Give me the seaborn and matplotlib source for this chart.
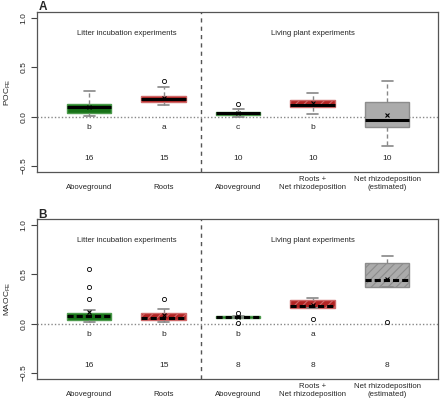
import matplotlib
matplotlib.use("Agg")
import matplotlib.pyplot as plt
import seaborn as sns

sns.set_style("white")
plt.rcParams['font.family'] = ['Liberation Sans', 'DejaVu Sans']
plt.rcParams['hatch.color'] = 'white'
plt.rcParams['hatch.linewidth'] = 0.8

categories = ["\nAboveground", "\nRoots", "\nAboveground",
              "Roots +\nNet rhizodeposition", "Net rhizodeposition\n(estimated)"]

# panel A : POC_FE
poc_q1 = [0.04, 0.15, 0.02, 0.10, -0.10]
poc_med = [0.10, 0.18, 0.035, 0.12, -0.03]
poc_q3 = [0.13, 0.21, 0.05, 0.17, 0.15]
poc_lo = [0.01, 0.12, 0.00, 0.03, -0.30]
poc_hi = [0.26, 0.30, 0.08, 0.24, 0.36]
poc_mean = [0.10, 0.19, 0.04, 0.14, 0.02]
poc_out = [[], [0.36], [0.13], [], []]
poc_letters = ["b", "a", "c", "b", ""]
poc_n = ["16", "15", "10", "10", "10"]

# panel B : MAOC_FE
maoc_q1 = [0.04, 0.04, 0.06, 0.16, 0.37]
maoc_med = [0.08, 0.06, 0.07, 0.18, 0.44]
maoc_q3 = [0.11, 0.11, 0.08, 0.24, 0.61]
maoc_lo = [0.02, 0.02, 0.06, 0.16, 0.37]
maoc_hi = [0.14, 0.15, 0.08, 0.26, 0.69]
maoc_mean = [0.12, 0.09, 0.07, 0.19, 0.45]
maoc_out = [[0.25, 0.37, 0.55], [0.25], [0.11, 0.01], [0.05], [0.02]]
maoc_letters = ["b", "b", "b", "a", ""]
maoc_n = ["16", "15", "8", "8", "8"]

fill = ['#177217', '#b22323', '#177217', '#b22323', '#ababab']
edge = ['#4c9a4c', '#d06a6a', '#4c9a4c', '#d06a6a', '#8c8c8c']
hatch_a = [None, None, None, '////', None]
hatch_b = ['--', '////', None, '////', '////']


def panel(ax, q1, med, q3, lo, hi, mean, out, letters, ns, hatches, ylab, dashed_med):
    stats = []
    for i in range(len(q1)):
        stats.append(dict(q1=q1[i], med=med[i], q3=q3[i], whislo=lo[i], whishi=hi[i],
                          mean=mean[i], fliers=out[i]))
    pos = list(range(1, len(q1) + 1))
    bp = ax.bxp(stats, positions=pos, widths=0.6, patch_artist=True, showmeans=True,
                medianprops=dict(color='black', lw=2.2, ls=(0, (2, 1)) if dashed_med else '-'),
                meanprops=dict(marker='x', markeredgecolor='black', markersize=3.5, mew=0.8),
                whiskerprops=dict(color='#888888', ls=(0, (3, 2)), lw=1),
                capprops=dict(color='#888888', lw=1.2),
                flierprops=dict(marker='o', markerfacecolor='none', markeredgecolor='black',
                                markersize=3, mew=0.6))
    for i, b in enumerate(bp['boxes']):
        b.set_facecolor(fill[i])
        b.set_edgecolor(edge[i])
        b.set_linewidth(1)
        if hatches[i]:
            b.set_hatch(hatches[i])
    for c in bp['caps']:
        c.set_xdata([c.get_xdata()[0] + 0.075, c.get_xdata()[1] - 0.075])

    ax.axhline(0, color='#888888', ls=(0, (1, 1.5)), lw=1, zorder=0)
    ax.axvline(2.5, color='#555555', ls=(0, (3, 3)), lw=1)
    ax.text(1.5, 0.84, "Litter incubation experiments", ha='center', va='center', fontsize=5.6)
    ax.text(4, 0.84, "Living plant experiments", ha='center', va='center', fontsize=5.6)
    for i in range(len(pos)):
        ax.text(pos[i], -0.11, letters[i], ha='center', va='center', fontsize=6)
        ax.text(pos[i], -0.42, ns[i], ha='center', va='center', fontsize=6)

    ax.set_xlim(0.3, 5.68)
    ax.set_ylim(-0.56, 1.06)
    ax.set_yticks([-0.5, 0.0, 0.5, 1.0])
    ax.set_yticklabels(["\u22120.5", "0.0", "0.5", "1.0"], rotation=90, va='center', fontsize=6)
    ax.set_xticks(pos)
    ax.set_xticklabels(categories, fontsize=5.6, linespacing=1.15)
    ax.tick_params(axis='x', length=0, pad=3)
    ax.tick_params(axis='y', length=4, width=0.8, color='#444444', pad=3, left=True)
    for s in ax.spines.values():
        s.set_color('#555555')
        s.set_linewidth(0.9)
    ax.set_ylabel(ylab, fontsize=6, labelpad=5)


fig = plt.figure(figsize=(4.4, 4.0), dpi=100)
ax1 = fig.add_axes([0.084, 0.57, 0.911, 0.40])
ax2 = fig.add_axes([0.084, 0.0525, 0.911, 0.40])

panel(ax1, poc_q1, poc_med, poc_q3, poc_lo, poc_hi, poc_mean, poc_out,
      poc_letters, poc_n, hatch_a, r"POC$_\mathregular{FE}$", False)
panel(ax2, maoc_q1, maoc_med, maoc_q3, maoc_lo, maoc_hi, maoc_mean, maoc_out,
      maoc_letters, maoc_n, hatch_b, r"MAOC$_\mathregular{FE}$", True)

fig.text(0.088, 0.997, "A", fontsize=8.5, fontweight='bold', ha='left', va='top')
fig.text(0.088, 0.478, "B", fontsize=8.5, fontweight='bold', ha='left', va='top')

fig.savefig("out.png", dpi=100)
